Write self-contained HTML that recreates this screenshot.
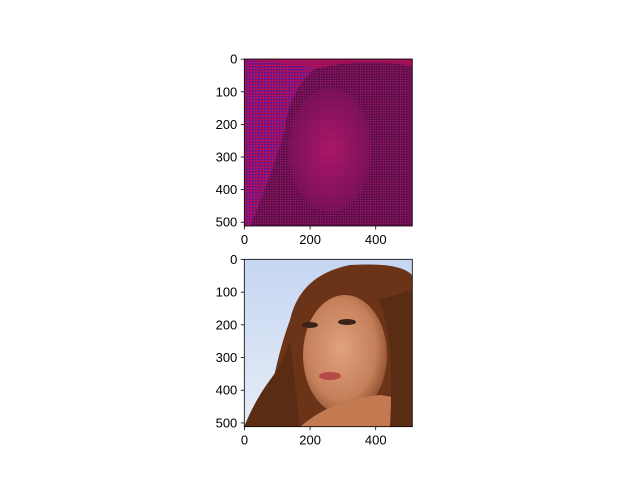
<!DOCTYPE html>
<html><head><meta charset="utf-8"><style>
body{margin:0;background:#fff}
svg{display:block;font-family:"Liberation Sans","DejaVu Sans",sans-serif}
</style></head><body>
<svg width="640" height="480" viewBox="0 0 640 480">
<defs>
<pattern id="dots" width="3" height="3" patternUnits="userSpaceOnUse">
<rect width="3" height="3" fill="#c0105a"/><rect width="1.5" height="1.5" fill="#2020e0"/>
</pattern>
<pattern id="dots2" width="2.5" height="2.5" patternUnits="userSpaceOnUse">
<rect width="2.5" height="2.5" fill="#5a0f48"/><rect width="1.2" height="1.2" fill="#b01470"/>
</pattern>
<radialGradient id="faceTop" cx="0.5" cy="0.5" r="0.5">
<stop offset="0" stop-color="#d21a78"/><stop offset="1" stop-color="#80125c"/>
</radialGradient>
<linearGradient id="sky" x1="0" y1="0" x2="0" y2="1">
<stop offset="0" stop-color="#c5d6f2"/><stop offset="1" stop-color="#e6ecf6"/>
</linearGradient>
<radialGradient id="skin" cx="0.45" cy="0.45" r="0.6">
<stop offset="0" stop-color="#e0a27c"/><stop offset="0.7" stop-color="#c5805a"/><stop offset="1" stop-color="#8a4a2c"/>
</radialGradient>
<clipPath id="c1"><rect x="244.3" y="59" width="168" height="167"/></clipPath>
<clipPath id="c2"><rect x="244.3" y="259.3" width="168" height="167.4"/></clipPath>
</defs>
<script>
var xTicks=[0,200,400];
var yTicks=[0,100,200,300,400,500];
</script>
<g clip-path="url(#c1)">
<rect x="244.3" y="59" width="168" height="167" fill="url(#dots2)"/>
<path d="M244,59 L330,59 Q290,80 285,130 Q270,180 250,226 L244,226 Z" fill="url(#dots)"/>
<path d="M244,59 L412,59 L412,66 Q360,58 320,68 Z" fill="#c0105a" opacity="0.8"/>
<ellipse cx="330" cy="150" rx="42" ry="62" fill="url(#faceTop)" opacity="0.8"/>
<rect x="244.3" y="59" width="168" height="167" fill="url(#dots2)" opacity="0.25"/>
</g>
<g clip-path="url(#c2)">
<rect x="244.3" y="259.3" width="168" height="167.4" fill="url(#sky)"/>
<path d="M265,427 Q275,360 290,320 Q300,275 350,265 Q400,262 412,275 L412,427 Z" fill="#6b3418"/>
<path d="M244,427 Q255,400 270,380 Q285,360 290,340 L300,427 Z" fill="#5a2c14"/>
<ellipse cx="345" cy="355" rx="42" ry="60" fill="url(#skin)"/>
<path d="M300,427 Q330,400 380,395 L412,400 L412,427 Z" fill="#c47a50"/>
<ellipse cx="310" cy="325" rx="8" ry="3" fill="#3a2218"/>
<ellipse cx="347" cy="322" rx="9" ry="3" fill="#3a2218"/>
<ellipse cx="330" cy="376" rx="11" ry="4" fill="#b84a48"/>
<path d="M378,300 Q395,330 390,427 L412,427 L412,290 Z" fill="#5a2c14"/>
</g>
<g fill="none" stroke="#000" stroke-width="0.8">
<rect x="244.3" y="59" width="168" height="167"/>
<rect x="244.3" y="259.3" width="168" height="167.4"/>
</g>
<g id="ticks" font-size="13" fill="#000"></g>
<script>
(function(){
var g=document.getElementById('ticks');
var ns='http://www.w3.org/2000/svg';
var axes=[{x0:244.3,y0:59,w:168,h:167},{x0:244.3,y0:259.3,w:168,h:167.4}];
axes.forEach(function(a,ai){
  function sx(v){return a.x0+(v+0.5)/512*a.w;}
  function sy(v){return a.y0+(v+0.5)/512*a.h;}
  xTicks.forEach(function(v){
    var l=document.createElementNS(ns,'line');
    l.setAttribute('x1',sx(v));l.setAttribute('x2',sx(v));
    l.setAttribute('y1',a.y0+a.h);l.setAttribute('y2',a.y0+a.h+3.5);
    l.setAttribute('stroke','#000');l.setAttribute('stroke-width','0.8');
    
    
    g.appendChild(l);
    var t=document.createElementNS(ns,'text');
    t.setAttribute('x',sx(v));t.setAttribute('y',a.y0+a.h+18);
    t.setAttribute('text-anchor','middle');t.textContent=v;
    
    
    g.appendChild(t);
  });
  yTicks.forEach(function(v){
    var l=document.createElementNS(ns,'line');
    l.setAttribute('x1',a.x0-3.5);l.setAttribute('x2',a.x0);
    l.setAttribute('y1',sy(v));l.setAttribute('y2',sy(v));
    l.setAttribute('stroke','#000');l.setAttribute('stroke-width','0.8');
    
    
    g.appendChild(l);
    var t=document.createElementNS(ns,'text');
    t.setAttribute('x',a.x0-7);t.setAttribute('y',sy(v)+4.5);
    t.setAttribute('text-anchor','end');t.textContent=v;
    
    
    g.appendChild(t);
  });
});
})();
</script>
</svg>
</body></html>
